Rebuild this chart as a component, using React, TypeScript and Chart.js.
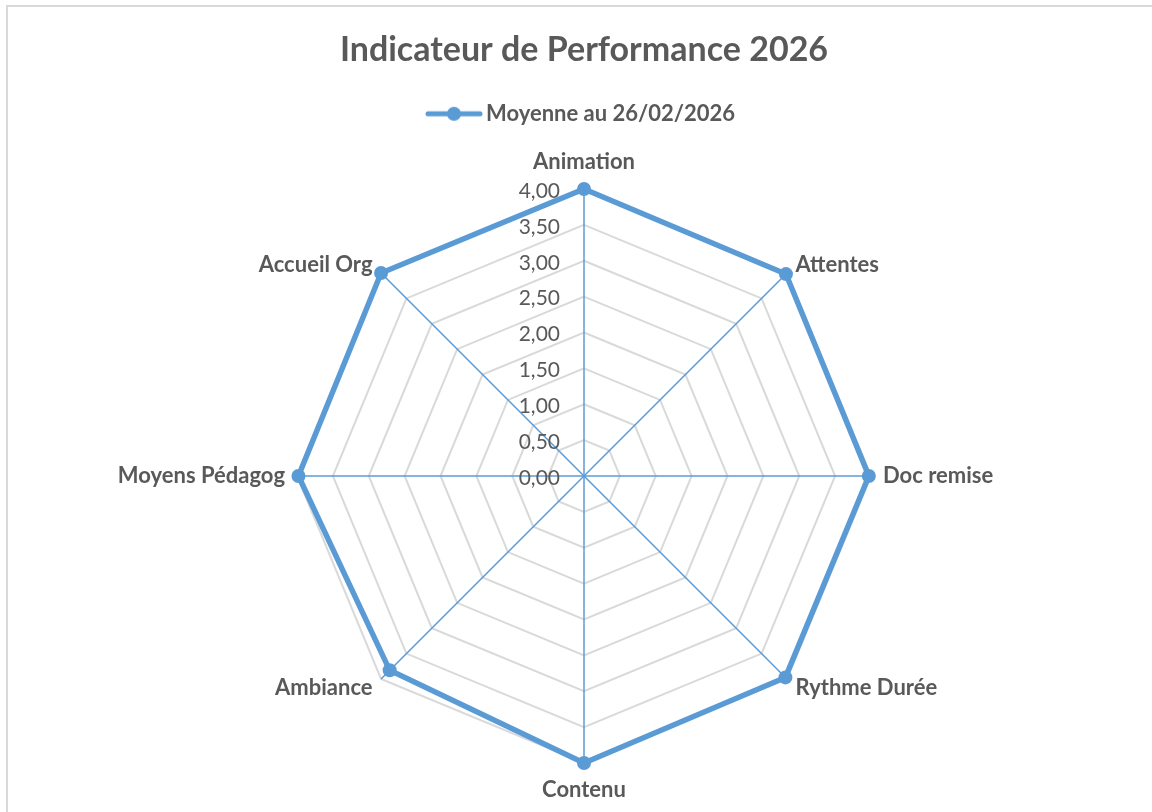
import React, { useEffect, useRef } from "react";
import { Chart, registerables } from "chart.js";

Chart.register(...registerables);

const titleText = "Indicateur de Performance 2026";
const seriesLabel = "Moyenne au 26/02/2026";
const categories = [
  "Animation",
  "Attentes",
  "Doc remise",
  "Rythme Durée",
  "Contenu",
  "Ambiance",
  "Moyens Pédagog",
  "Accueil Org",
];
const values = [4.0, 3.98, 3.97, 3.97, 4.0, 3.83, 3.98, 4.0];
const tickValues = [0, 0.5, 1, 1.5, 2, 2.5, 3, 3.5, 4];
const tickLabels = ["0,00", "0,50", "1,00", "1,50", "2,00", "2,50", "3,00", "3,50", "4,00"];

const BLUE = "#5B9BD5";
const GRID = "#D9D9D9";
const TEXT = "#595959";
const FONT = "Lato, 'Open Sans', sans-serif";

function makeLegendImage(): HTMLCanvasElement {
  const c = document.createElement("canvas");
  c.width = 58;
  c.height = 16;
  const g = c.getContext("2d")!;
  g.strokeStyle = BLUE;
  g.lineWidth = 5;
  g.lineCap = "round";
  g.beginPath();
  g.moveTo(3, 8);
  g.lineTo(55, 8);
  g.stroke();
  g.fillStyle = BLUE;
  g.beginPath();
  g.arc(29, 8, 7, 0, Math.PI * 2);
  g.fill();
  return c;
}

const borderPlugin = {
  id: "frameBorder",
  beforeDraw(chart: any) {
    const ctx = chart.ctx;
    ctx.save();
    ctx.fillStyle = "#ffffff";
    ctx.fillRect(0, 0, chart.width, chart.height);
    ctx.strokeStyle = GRID;
    ctx.lineWidth = 2;
    ctx.strokeRect(7, 6, chart.width + 20, chart.height + 20);
    ctx.restore();
  },
};

const legendSpacer = {
  id: "legendSpacer",
  beforeInit(chart: any) {
    const legend = chart.legend;
    if (!legend) return;
    const orig = legend.fit;
    legend.fit = function () {
      orig.call(legend);
      this.height += 55;
    };
  },
};

const tickLabelPlugin = {
  id: "tickLabelPlugin",
  afterDatasetsDraw(chart: any) {
    const s = chart.scales.r;
    const ctx = chart.ctx;
    ctx.save();
    ctx.font = `21px ${FONT}`;
    ctx.fillStyle = TEXT;
    ctx.textAlign = "right";
    ctx.textBaseline = "middle";
    tickValues.forEach((v, i) => {
      const d = s.getDistanceFromCenterForValue(v);
      ctx.fillText(tickLabels[i], s.xCenter - 24, s.yCenter - d + 2);
    });
    ctx.restore();
  },
};

const pointLabelPlugin = {
  id: "pointLabelPlugin",
  afterDatasetsDraw(chart: any) {
    const s = chart.scales.r;
    const ctx = chart.ctx;
    ctx.save();
    ctx.font = `bold 22px ${FONT}`;
    ctx.fillStyle = TEXT;
    ctx.textBaseline = "middle";
    categories.forEach((label, i) => {
      const a = s.getIndexAngle(i);
      const p = s.getPointPosition(i, s.drawingArea + 12);
      const sn = Math.sin(a);
      const cs = Math.cos(a);
      let y = p.y;
      if (sn > 0.01) ctx.textAlign = "left";
      else if (sn < -0.01) ctx.textAlign = "right";
      else {
        ctx.textAlign = "center";
        y += -cs * 15;
      }
      ctx.fillText(label, p.x, y);
    });
    ctx.restore();
  },
};

export default function App() {
  const ref = useRef<HTMLCanvasElement | null>(null);

  useEffect(() => {
    if (!ref.current) return;
    Chart.defaults.font.family = FONT;
    const legendImg = makeLegendImage();
    const chart = new Chart(ref.current, {
      type: "radar",
      data: {
        labels: categories,
        datasets: [
          {
            label: seriesLabel,
            data: values,
            borderColor: BLUE,
            backgroundColor: BLUE,
            borderWidth: 5.5,
            pointStyle: "circle",
            pointRadius: 7,
            pointHoverRadius: 7,
            pointBorderWidth: 0,
            pointBackgroundColor: BLUE,
            fill: false,
            tension: 0,
          },
        ],
      },
      options: {
        responsive: false,
        animation: false,
        layout: { padding: { left: 297, right: 281, top: 0, bottom: 48 } },
        plugins: {
          title: {
            display: true,
            text: titleText,
            color: TEXT,
            font: { size: 34, weight: "bold", family: FONT },
            padding: { top: 30, bottom: 22 },
          },
          legend: {
            display: true,
            position: "top",
            labels: {
              color: TEXT,
              font: { size: 22, weight: "bold", family: FONT },
              usePointStyle: true,
              pointStyleWidth: 42,
              padding: 10,
              generateLabels: () => [
                {
                  text: seriesLabel,
                  fillStyle: BLUE,
                  strokeStyle: BLUE,
                  pointStyle: legendImg as any,
                  lineWidth: 0,
                  hidden: false,
                  datasetIndex: 0,
                  fontColor: TEXT,
                } as any,
              ],
            },
          },
          tooltip: { enabled: false },
        },
        scales: {
          r: {
            min: 0,
            max: 4,
            beginAtZero: true,
            ticks: { display: false, stepSize: 0.5 },
            grid: { color: GRID, lineWidth: 2 },
            angleLines: { color: BLUE, lineWidth: 1.5 },
            pointLabels: { display: false },
          },
        },
      },
      plugins: [borderPlugin, legendSpacer, tickLabelPlugin, pointLabelPlugin],
    });
    return () => chart.destroy();
  }, []);

  return (
    <div style={{ position: "fixed", left: 0, top: 0, width: 1152, height: 812, background: "#fff" }}>
      <canvas ref={ref} width={1152} height={812} style={{ width: 1152, height: 812, display: "block" }} />
    </div>
  );
}
